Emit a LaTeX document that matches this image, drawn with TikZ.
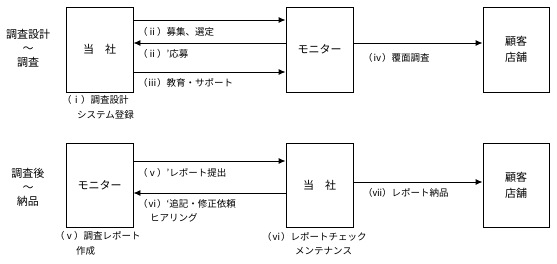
\documentclass[tikz,border=0pt]{standalone}
\usepackage{fontspec}
\setmainfont{Noto Sans CJK JP}
\usetikzlibrary{arrows.meta}

\begin{document}
\begin{tikzpicture}[x=1pt,y=-1pt,
  box/.style={draw,line width=0.9pt,minimum width=67pt,font=\fontsize{11}{16}\selectfont,align=center,inner sep=0pt},
  lbl/.style={anchor=west,inner sep=0pt,font=\fontsize{9.5}{14.5}\selectfont,align=left},
  phase/.style={inner sep=0pt,font=\fontsize{11}{14}\selectfont,align=center},
  arr/.style={line width=0.9pt,-{Latex[length=7pt,width=6pt]}}]
  \useasboundingbox (0,0) rectangle (557,264);
  % upper row
  \node[box,minimum height=85pt] (tosha1) at (99.5,49.5) {当　社};
  \node[box,minimum height=85pt] (mon1) at (319.5,49.5) {モニター};
  \node[box,minimum height=85pt,minimum width=66pt] (kyaku1) at (516,49.5) {顧客\\店舗};
  \node[phase] (ph1) at (28,48.5) {調査設計\\～\\調査};
  \draw[arr] (tosha1.east |- 0,20) -- (mon1.west |- 0,20);
  \draw[arr] (mon1.west |- 0,43) -- (tosha1.east |- 0,43);
  \draw[arr] (tosha1.east |- 0,72) -- (mon1.west |- 0,72);
  \draw[arr] (mon1.east |- 0,43) -- (kyaku1.west |- 0,43);
  \node[lbl] (l2) at (138,32) {（ⅱ）募集、選定};
  \node[lbl] (l2b) at (138,54) {（ⅱ）’応募};
  \node[lbl] (l3) at (138,83) {（ⅲ）教育・サポート};
  \node[lbl] (l1) at (62,107.5) {（ⅰ）調査設計\\\hspace{15pt}システム登録};
  \node[lbl] (l4) at (363,58) {（ⅳ）覆面調査};
  % lower row
  \node[box,minimum height=84pt] (mon2) at (99.5,185) {モニター};
  \node[box,minimum height=84pt] (tosha2) at (319.5,185) {当　社};
  \node[box,minimum height=84pt,minimum width=66pt] (kyaku2) at (516,185) {顧客\\店舗};
  \node[phase] (ph2) at (28,187.5) {調査後\\～\\納品};
  \draw[arr] (mon2.east |- 0,161) -- (tosha2.west |- 0,161);
  \draw[arr] (tosha2.west |- 0,193) -- (mon2.east |- 0,193);
  \draw[arr] (tosha2.east |- 0,182) -- (kyaku2.west |- 0,182);
  \node[lbl] (l5b) at (138,173) {（ⅴ）’レポート提出};
  \node[lbl] (l6b) at (138,211) {（ⅵ）‘追記・修正依頼\\\hspace{12pt}ヒアリング};
  \node[lbl] (l5) at (55,243.5) {（ⅴ）調査レポート\\\hspace{21pt}作成};
  \node[lbl] (l6) at (262,243.5) {（ⅵ）レポートチェック\\\hspace{33pt}メンテナンス};
  \node[lbl] (l7) at (363,193) {（ⅶ）レポート納品};
\end{tikzpicture}
\end{document}
